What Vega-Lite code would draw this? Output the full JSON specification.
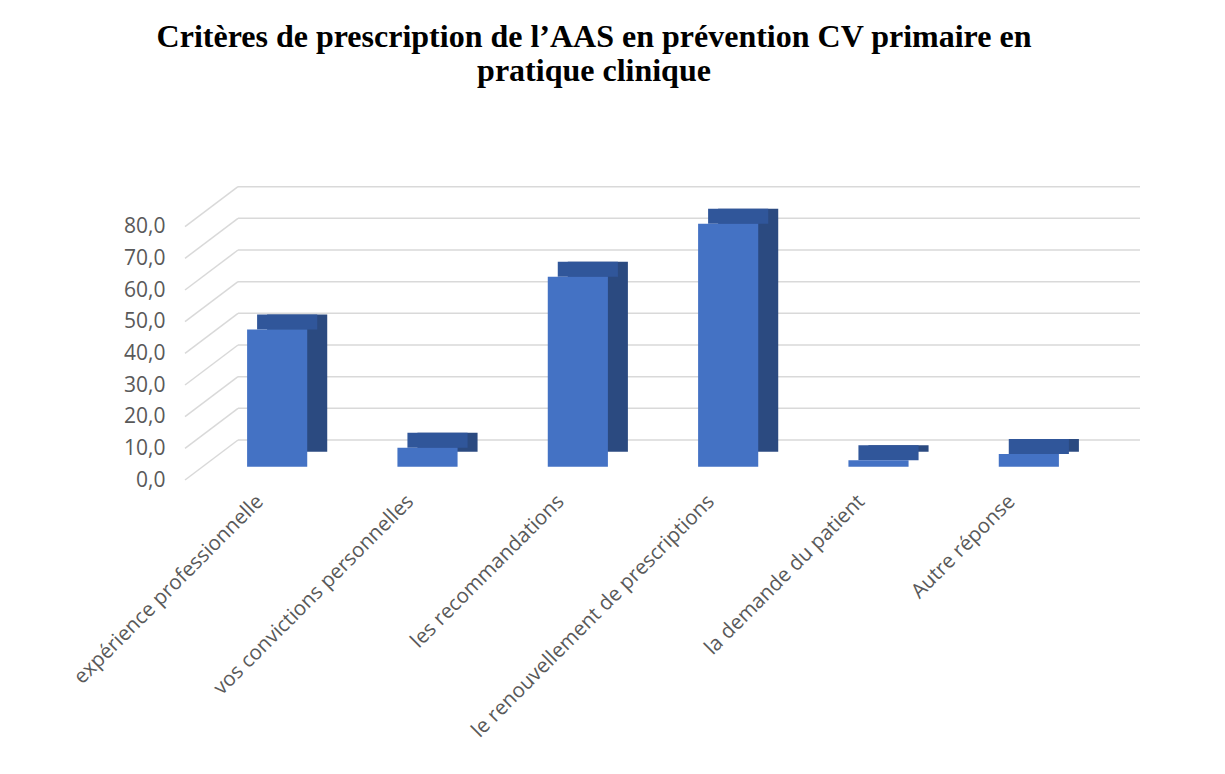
{
  "$schema": "https://vega.github.io/schema/vega-lite/v6.json",
  "autosize": "none",
  "width": 902,
  "height": 253.3,
  "padding": {"left": 185, "top": 226.7, "right": 138, "bottom": 294},
  "background": "white",
  "config": {"view": {"stroke": null}},
  "title": {
    "text": ["Critères de prescription de l’AAS en prévention CV primaire en", "pratique clinique"],
    "font": "Liberation Serif",
    "fontSize": 32,
    "fontWeight": "bold",
    "color": "#000000",
    "lineHeight": 34,
    "anchor": "middle",
    "dx": -42,
    "offset": 98
  },
  "datasets": {
    "bars": [
      {"critere": "expérience professionnelle", "v": 43.3},
      {"critere": "vos convictions personnelles", "v": 6.0},
      {"critere": "les recommandations", "v": 60.0},
      {"critere": "le renouvellement de prescriptions", "v": 76.7},
      {"critere": "la demande du patient", "v": 2.0},
      {"critere": "Autre réponse", "v": 4.0}
    ],
    "ticks": [
      {"v": 0}, {"v": 10}, {"v": 20}, {"v": 30}, {"v": 40},
      {"v": 50}, {"v": 60}, {"v": 70}, {"v": 80}
    ]
  },
  "encoding": {
    "y": {"field": "v", "type": "quantitative", "scale": {"domain": [0, 80], "nice": false},
      "axis": {"values": [0, 10, 20, 30, 40, 50, 60, 70, 80], "tickCount": 9, "grid": false, "ticks": false, "domain": false,
        "labelOverlap": false,
        "labelExpr": "replace(format(datum.value, '.1f'), '.', ',')",
        "labelFont": "Open Sans", "labelFontSize": 21, "labelColor": "#595959", "labelPadding": 20, "title": null}}
  },
  "resolve": {"scale": {"x": "independent"}},
  "layer": [
    {
      "data": {"name": "ticks"},
      "mark": {"type": "rule", "color": "#D9D9D9", "strokeWidth": 1.5, "x2Offset": 53, "y2Offset": -40},
      "encoding": {
        "x": {"datum": 0, "type": "quantitative", "scale": {"domain": [0, 1], "nice": false}, "axis": null},
        "x2": {"datum": 0},
        "y2": {"field": "v"}
      }
    },
    {
      "data": {"name": "ticks"},
      "mark": {"type": "rule", "color": "#D9D9D9", "strokeWidth": 1.5, "xOffset": 53, "x2Offset": 53, "yOffset": -40, "y2Offset": -40},
      "encoding": {
        "x": {"datum": 0, "type": "quantitative", "scale": {"domain": [0, 1], "nice": false}, "axis": null},
        "x2": {"datum": 1},
        "y2": {"field": "v"}
      }
    },
    {
      "data": {"name": "bars"},
      "layer": [
        {
          "mark": {"type": "bar", "color": "#2B4A80", "xOffset": 37, "yOffset": -28.3, "y2Offset": -28.3},
          "encoding": {
            "x": {"field": "critere", "type": "nominal", "sort": null,
              "scale": {"paddingInner": 0.6, "paddingOuter": 0.3},
              "axis": {"labelAngle": -45, "labelAlign": "right", "labelBaseline": "middle", "labelPadding": 18,
                "ticks": false, "domain": false, "labelFont": "Open Sans", "labelFontSize": 20.5,
                "labelColor": "#595959", "title": null, "labelLimit": 0}}
          }
        },
        {
          "mark": {"type": "bar", "color": "#30569A", "xOffset": 27, "yOffset": -28.3, "y2Offset": -13.3},
          "encoding": {
            "x": {"field": "critere", "type": "nominal", "sort": null},
            "y2": {"field": "v"}
          }
        },
        {
          "mark": {"type": "bar", "color": "#4472C4", "xOffset": 17, "yOffset": -13.3, "y2Offset": -13.3},
          "encoding": {
            "x": {"field": "critere", "type": "nominal", "sort": null}
          }
        }
      ]
    }
  ]
}
